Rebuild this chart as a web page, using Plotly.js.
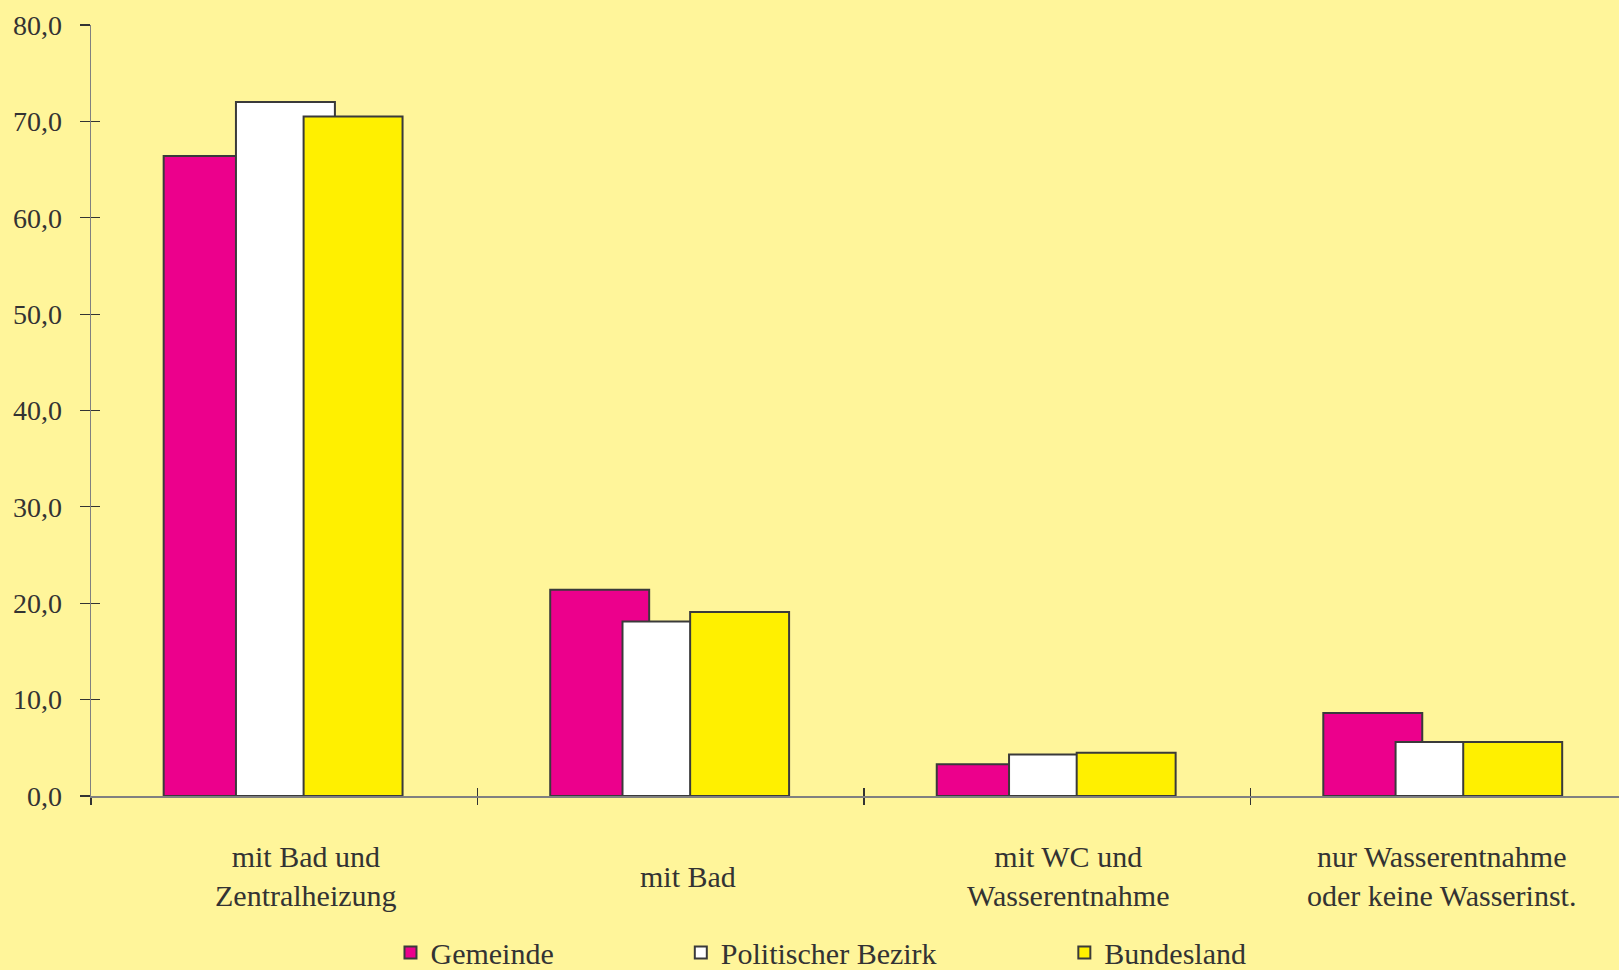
<!DOCTYPE html>
<html>
<head>
<meta charset="utf-8">
<script src="https://cdn.plot.ly/plotly-3.0.1.min.js"></script>
<style>html,body{margin:0;padding:0;background:#FFF59A;}#chart{width:1619px;height:970px;}</style>
</head>
<body>
<div id="chart"></div>
<script>
const categories = ["mit Bad und<br>Zentralheizung", "mit Bad", "mit WC und<br>Wasserentnahme", "nur Wasserentnahme<br>oder keine Wasserinst."];
const seriesNames = ["Gemeinde", "Politischer Bezirk", "Bundesland"];
const gemeinde = [66.4, 21.4, 3.3, 8.6];
const bezirk = [72.0, 18.1, 4.3, 5.6];
const bundesland = [70.5, 19.1, 4.5, 5.6];
const yTicks = [0, 10, 20, 30, 40, 50, 60, 70, 80];
const yTickText = ["0,0", "10,0", "20,0", "30,0", "40,0", "50,0", "60,0", "70,0", "80,0"];

const colors = ["#EC008C", "#FFFFFF", "#FFF000"];
const offsets = [-0.312, -0.125, 0.050];
const barWidth = 0.256;
const legendIds = ["legend", "legend2", "legend3"];
const labelShift = [22, 17, 11, -2];
const values = [gemeinde, bezirk, bundesland];

const FONT = "Liberation Serif, Times New Roman, serif";
const TXT = "#333333";

const traces = values.map((v, i) => ({
  type: "bar",
  name: seriesNames[i],
  x: categories,
  y: v,
  offset: offsets[i],
  width: barWidth,
  marker: {color: colors[i], line: {color: "#3a3a3a", width: 2}},
  legend: legendIds[i],
  hoverinfo: "y+name"
}));

const legendBase = (x) => ({
  x: x, y: 0.018, xanchor: "left", yanchor: "middle",
  yref: "container",
  orientation: "h", bgcolor: "rgba(0,0,0,0)",
  font: {family: FONT, size: 30, color: TXT},
  itemwidth: 30
});

const layout = {
  width: 1619, height: 970,
  paper_bgcolor: "#FFF59A", plot_bgcolor: "#FFF59A",
  margin: {l: 91, r: 0, t: 25, b: 174, autoexpand: false},
  barmode: "overlay",
  showlegend: true,
  legend: legendBase(0.196),
  legend2: legendBase(0.386),
  legend3: legendBase(0.637),
  xaxis: {
    type: "category",
    range: [-0.5, 3.453],
    showticklabels: false,
    ticks: "outside", ticklen: 7, tickwidth: 1.2, tickcolor: "#333",
    tickson: "boundaries",
    showline: true, linecolor: "#808080", linewidth: 1.5,
    showgrid: false, zeroline: false, fixedrange: true
  },
  xaxis2: {
    type: "category", overlaying: "x", anchor: "y",
    categoryarray: categories,
    range: [-0.5, 3.453],
    showticklabels: false,
    ticks: "inside", ticklen: 8, tickwidth: 1.2, tickcolor: "#333",
    tickson: "boundaries", showline: false, showgrid: false, zeroline: false
  },
  yaxis: {
    range: [0, 80],
    tickvals: yTicks, ticktext: yTickText,
    ticks: "outside", ticklen: 10, tickwidth: 1.2, tickcolor: "#333",
    ticklabelstandoff: 12,
    tickfont: {family: FONT, size: 28, color: TXT},
    showline: true, linecolor: "#808080", linewidth: 1.5,
    showgrid: false, zeroline: false, fixedrange: true
  },
  yaxis2: {
    range: [0, 80], overlaying: "y", anchor: "x", side: "left",
    tickvals: yTicks, showticklabels: false,
    ticks: "inside", ticklen: 9, tickwidth: 1.2, tickcolor: "#333",
    showline: false, showgrid: false, zeroline: false
  },
  annotations: categories.map((c, i) => ({
    x: c, xref: "x", y: 0, yref: "y",
    yanchor: "middle", xanchor: "center", yshift: -80, xshift: labelShift[i],
    text: c, showarrow: false, align: "center",
    font: {family: FONT, size: 30, color: TXT}
  }))
};

// invisible trace so the secondary (inside-tick) axes render
traces.push({type: "scatter", x: categories, y: [null, null, null, null], xaxis: "x2", yaxis: "y2", showlegend: false, hoverinfo: "skip"});

Plotly.newPlot("chart", traces, layout, {displayModeBar: false, staticPlot: true});
</script>
</body>
</html>
